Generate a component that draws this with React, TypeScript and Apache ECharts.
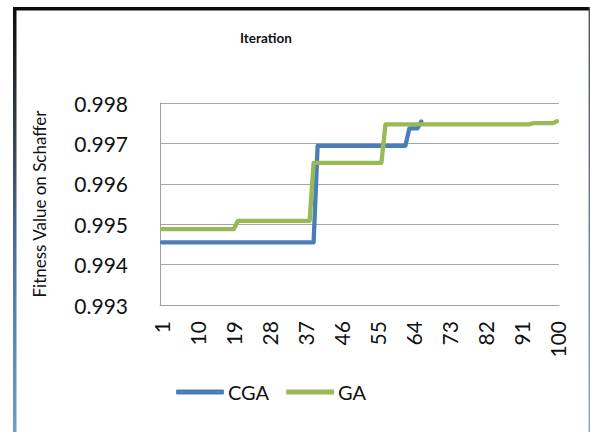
import React, { useEffect, useRef } from "react";
import * as echarts from "echarts";

// Iteration numbers 1..100 on the category axis
const iterations: string[] = [
  "1", "2", "3", "4", "5", "6", "7", "8", "9", "10",
  "11", "12", "13", "14", "15", "16", "17", "18", "19", "20",
  "21", "22", "23", "24", "25", "26", "27", "28", "29", "30",
  "31", "32", "33", "34", "35", "36", "37", "38", "39", "40",
  "41", "42", "43", "44", "45", "46", "47", "48", "49", "50",
  "51", "52", "53", "54", "55", "56", "57", "58", "59", "60",
  "61", "62", "63", "64", "65", "66", "67", "68", "69", "70",
  "71", "72", "73", "74", "75", "76", "77", "78", "79", "80",
  "81", "82", "83", "84", "85", "86", "87", "88", "89", "90",
  "91", "92", "93", "94", "95", "96", "97", "98", "99", "100",
];

// Best fitness per iteration, chaotic GA (stops after iteration 66)
const cgaValues: number[] = [
  0.99455, 0.99455, 0.99455, 0.99455, 0.99455, 0.99455, 0.99455, 0.99455, 0.99455, 0.99455,
  0.99455, 0.99455, 0.99455, 0.99455, 0.99455, 0.99455, 0.99455, 0.99455, 0.99455, 0.99455,
  0.99455, 0.99455, 0.99455, 0.99455, 0.99455, 0.99455, 0.99455, 0.99455, 0.99455, 0.99455,
  0.99455, 0.99455, 0.99455, 0.99455, 0.99455, 0.99455, 0.99455, 0.99455, 0.99455, 0.99694,
  0.99694, 0.99694, 0.99694, 0.99694, 0.99694, 0.99694, 0.99694, 0.99694, 0.99694, 0.99694,
  0.99694, 0.99694, 0.99694, 0.99694, 0.99694, 0.99694, 0.99694, 0.99694, 0.99694, 0.99694,
  0.99694, 0.99694, 0.99737, 0.99737, 0.99737, 0.99754,
];

// Best fitness per iteration, standard GA
const gaValues: number[] = [
  0.99488, 0.99488, 0.99488, 0.99488, 0.99488, 0.99488, 0.99488, 0.99488, 0.99488, 0.99488,
  0.99488, 0.99488, 0.99488, 0.99488, 0.99488, 0.99488, 0.99488, 0.99488, 0.99488, 0.99508,
  0.99508, 0.99508, 0.99508, 0.99508, 0.99508, 0.99508, 0.99508, 0.99508, 0.99508, 0.99508,
  0.99508, 0.99508, 0.99508, 0.99508, 0.99508, 0.99508, 0.99508, 0.99508, 0.99652, 0.99652,
  0.99652, 0.99652, 0.99652, 0.99652, 0.99652, 0.99652, 0.99652, 0.99652, 0.99652, 0.99652,
  0.99652, 0.99652, 0.99652, 0.99652, 0.99652, 0.99652, 0.99747, 0.99747, 0.99747, 0.99747,
  0.99747, 0.99747, 0.99747, 0.99747, 0.99747, 0.99747, 0.99747, 0.99747, 0.99747, 0.99747,
  0.99747, 0.99747, 0.99747, 0.99747, 0.99747, 0.99747, 0.99747, 0.99747, 0.99747, 0.99747,
  0.99747, 0.99747, 0.99747, 0.99747, 0.99747, 0.99747, 0.99747, 0.99747, 0.99747, 0.99747,
  0.99747, 0.99747, 0.99747, 0.9975, 0.9975, 0.9975, 0.9975, 0.9975, 0.9975, 0.99755,
];

const seriesNames: string[] = ["CGA", "GA"];
const yMin = 0.993;
const yMax = 0.998;
const yStep = 0.001;

const FONT = "Lato, 'Open Sans', sans-serif";

export default function App() {
  const ref = useRef<HTMLDivElement>(null);

  useEffect(() => {
    if (!ref.current) return;
    const chart = echarts.init(ref.current, null, { renderer: "svg" });

    chart.setOption({
      animation: false,
      backgroundColor: "#ffffff",
      textStyle: { fontFamily: FONT },
      title: {
        text: "Iteration",
        left: 240,
        top: 31,
        padding: 0,
        textStyle: { fontSize: 13.5, fontWeight: "bold", color: "#111", fontFamily: FONT },
      },
      grid: { left: 160, right: 31, top: 103, bottom: 127, containLabel: false },
      legend: {
        data: seriesNames,
        left: 176,
        top: 382,
        padding: 0,
        icon: "roundRect",
        itemWidth: 48,
        itemHeight: 5,
        itemGap: 17,
        textStyle: { fontSize: 20, color: "#111", fontFamily: FONT, padding: [0, 0, 0, -1] },
      },
      xAxis: {
        type: "category",
        data: iterations,
        boundaryGap: true,
        axisLine: { show: true, lineStyle: { color: "#a0a0a0", width: 1 } },
        axisTick: { show: false },
        axisLabel: {
          interval: 8,
          rotate: 90,
          margin: 16,
          fontSize: 21,
          color: "#111",
          fontFamily: FONT,
        },
        splitLine: { show: false },
      },
      yAxis: {
        type: "value",
        min: yMin,
        max: yMax,
        interval: yStep,
        name: "Fitness Value on Schaffer",
        nameLocation: "middle",
        nameGap: 112,
        nameTextStyle: { fontSize: 17, color: "#111", fontFamily: FONT },
        axisLine: { show: true, lineStyle: { color: "#a0a0a0", width: 1 } },
        axisTick: { show: false },
        axisLabel: {
          margin: 32,
          fontSize: 21,
          color: "#111",
          fontFamily: FONT,
          formatter: (v: number) => v.toFixed(3),
        },
        splitLine: { show: true, lineStyle: { color: "#a6a6a6", width: 1 } },
      },
      series: [
        {
          name: seriesNames[0],
          type: "line",
          data: cgaValues,
          showSymbol: false,
          symbol: "none",
          color: "#4a7ebb",
          lineStyle: { width: 4.3, color: "#4a7ebb", cap: "round", join: "round" },
          z: 3,
        },
        {
          name: seriesNames[1],
          type: "line",
          data: gaValues,
          showSymbol: false,
          symbol: "none",
          color: "#98b954",
          lineStyle: { width: 4.3, color: "#98b954", cap: "round", join: "round" },
          z: 4,
        },
      ],
      graphic: [
        // outer frame: heavy top edge, shaded left edge, thin right edge
        {
          type: "rect",
          shape: { x: 13, y: 7, width: 577, height: 3.5 },
          style: { fill: "#0c0c0c" },
          silent: true,
        },
        {
          type: "rect",
          shape: { x: 13, y: 7, width: 3.5, height: 425 },
          style: {
            fill: new echarts.graphic.LinearGradient(0, 0, 0, 1, [
              { offset: 0, color: "#0b0b0b" },
              { offset: 0.25, color: "#333842" },
              { offset: 0.6, color: "#4f72a8" },
              { offset: 1, color: "#6c9cdc" },
            ]),
          },
          silent: true,
        },
        {
          type: "rect",
          shape: { x: 588.6, y: 7, width: 1.4, height: 425 },
          style: {
            fill: new echarts.graphic.LinearGradient(0, 0, 0, 1, [
              { offset: 0, color: "#505050" },
              { offset: 1, color: "#7ea6e0" },
            ]),
          },
          silent: true,
        },
      ],
    });

    return () => chart.dispose();
  }, []);

  return (
    <div
      ref={ref}
      style={{ position: "absolute", left: 0, top: 0, width: 590, height: 432 }}
    />
  );
}
